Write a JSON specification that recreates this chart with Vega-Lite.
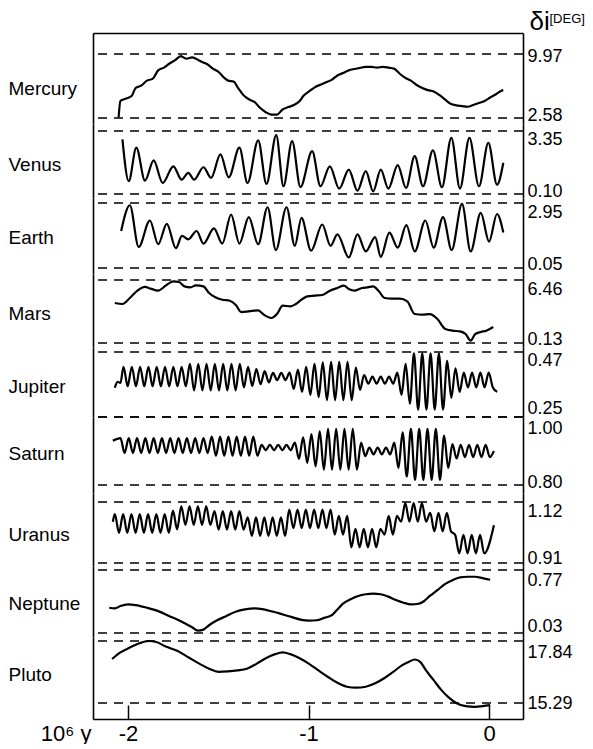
{
"$schema": "https://vega.github.io/schema/vega-lite/v6.json",
"background": "white",
"padding": {"left": 8, "top": 8, "right": 5, "bottom": 0},
"spacing": 0,
"bounds": "flush",
"datasets": {
"limits": [
{"p":"Mercury","v":9.97},{"p":"Mercury","v":2.58},
{"p":"Venus","v":3.35},{"p":"Venus","v":0.10},
{"p":"Earth","v":2.95},{"p":"Earth","v":0.05},
{"p":"Mars","v":6.46},{"p":"Mars","v":0.13},
{"p":"Jupiter","v":0.47},{"p":"Jupiter","v":0.25},
{"p":"Saturn","v":1.00},{"p":"Saturn","v":0.80},
{"p":"Uranus","v":1.12},{"p":"Uranus","v":0.91},
{"p":"Neptune","v":0.77},{"p":"Neptune","v":0.03},
{"p":"Pluto","v":17.84},{"p":"Pluto","v":15.29}
],
"curves": [
{"p":"Mercury","t":-2.052,"v":2.66},{"p":"Mercury","t":-2.042,"v":4.55},{"p":"Mercury","t":-2.010,"v":4.82},{"p":"Mercury","t":-1.979,"v":5.14},{"p":"Mercury","t":-1.958,"v":6.04},{"p":"Mercury","t":-1.927,"v":6.32},{"p":"Mercury","t":-1.895,"v":6.90},{"p":"Mercury","t":-1.864,"v":7.10},{"p":"Mercury","t":-1.833,"v":8.08},{"p":"Mercury","t":-1.801,"v":8.40},{"p":"Mercury","t":-1.770,"v":8.87},{"p":"Mercury","t":-1.739,"v":9.26},{"p":"Mercury","t":-1.707,"v":9.73},{"p":"Mercury","t":-1.693,"v":9.58},{"p":"Mercury","t":-1.676,"v":9.42},{"p":"Mercury","t":-1.645,"v":9.58},{"p":"Mercury","t":-1.624,"v":9.42},{"p":"Mercury","t":-1.592,"v":9.07},{"p":"Mercury","t":-1.561,"v":8.79},{"p":"Mercury","t":-1.530,"v":8.28},{"p":"Mercury","t":-1.498,"v":7.89},{"p":"Mercury","t":-1.467,"v":7.22},{"p":"Mercury","t":-1.446,"v":6.90},{"p":"Mercury","t":-1.415,"v":6.79},{"p":"Mercury","t":-1.390,"v":6.04},{"p":"Mercury","t":-1.362,"v":5.25},{"p":"Mercury","t":-1.331,"v":4.74},{"p":"Mercury","t":-1.300,"v":4.43},{"p":"Mercury","t":-1.269,"v":3.76},{"p":"Mercury","t":-1.237,"v":3.25},{"p":"Mercury","t":-1.206,"v":2.97},{"p":"Mercury","t":-1.175,"v":2.97},{"p":"Mercury","t":-1.144,"v":3.56},{"p":"Mercury","t":-1.112,"v":3.84},{"p":"Mercury","t":-1.081,"v":4.08},{"p":"Mercury","t":-1.049,"v":4.55},{"p":"Mercury","t":-1.028,"v":5.14},{"p":"Mercury","t":-0.997,"v":5.65},{"p":"Mercury","t":-0.966,"v":6.12},{"p":"Mercury","t":-0.934,"v":6.43},{"p":"Mercury","t":-0.903,"v":6.71},{"p":"Mercury","t":-0.872,"v":6.98},{"p":"Mercury","t":-0.840,"v":7.49},{"p":"Mercury","t":-0.809,"v":7.77},{"p":"Mercury","t":-0.778,"v":8.08},{"p":"Mercury","t":-0.746,"v":8.24},{"p":"Mercury","t":-0.715,"v":8.36},{"p":"Mercury","t":-0.684,"v":8.48},{"p":"Mercury","t":-0.652,"v":8.48},{"p":"Mercury","t":-0.621,"v":8.40},{"p":"Mercury","t":-0.589,"v":8.48},{"p":"Mercury","t":-0.558,"v":8.40},{"p":"Mercury","t":-0.527,"v":8.28},{"p":"Mercury","t":-0.495,"v":7.69},{"p":"Mercury","t":-0.464,"v":7.22},{"p":"Mercury","t":-0.433,"v":6.90},{"p":"Mercury","t":-0.401,"v":6.39},{"p":"Mercury","t":-0.370,"v":6.04},{"p":"Mercury","t":-0.339,"v":5.80},{"p":"Mercury","t":-0.307,"v":5.65},{"p":"Mercury","t":-0.276,"v":5.25},{"p":"Mercury","t":-0.245,"v":4.74},{"p":"Mercury","t":-0.213,"v":4.23},{"p":"Mercury","t":-0.182,"v":4.04},{"p":"Mercury","t":-0.150,"v":3.96},{"p":"Mercury","t":-0.119,"v":3.88},{"p":"Mercury","t":-0.088,"v":4.08},{"p":"Mercury","t":-0.056,"v":4.31},{"p":"Mercury","t":-0.025,"v":4.55},{"p":"Mercury","t":0.006,"v":4.94},{"p":"Mercury","t":0.038,"v":5.33},{"p":"Mercury","t":0.069,"v":5.73},{"p":"Mercury","t":0.079,"v":5.80},

{"p":"Venus","t":-2.031,"v":2.92},{"p":"Venus","t":-1.996,"v":0.76},{"p":"Venus","t":-1.954,"v":2.49},{"p":"Venus","t":-1.906,"v":0.79},{"p":"Venus","t":-1.858,"v":1.83},{"p":"Venus","t":-1.808,"v":0.67},{"p":"Venus","t":-1.749,"v":1.53},{"p":"Venus","t":-1.703,"v":0.84},{"p":"Venus","t":-1.666,"v":1.19},{"p":"Venus","t":-1.634,"v":0.84},{"p":"Venus","t":-1.582,"v":1.48},{"p":"Venus","t":-1.540,"v":0.93},{"p":"Venus","t":-1.488,"v":2.14},{"p":"Venus","t":-1.442,"v":0.96},{"p":"Venus","t":-1.383,"v":2.49},{"p":"Venus","t":-1.338,"v":0.67},{"p":"Venus","t":-1.279,"v":2.87},{"p":"Venus","t":-1.233,"v":0.62},{"p":"Venus","t":-1.179,"v":3.14},{"p":"Venus","t":-1.139,"v":0.50},{"p":"Venus","t":-1.091,"v":2.83},{"p":"Venus","t":-1.045,"v":0.46},{"p":"Venus","t":-0.980,"v":2.31},{"p":"Venus","t":-0.934,"v":0.50},{"p":"Venus","t":-0.882,"v":1.53},{"p":"Venus","t":-0.830,"v":0.38},{"p":"Venus","t":-0.777,"v":1.36},{"p":"Venus","t":-0.729,"v":0.27},{"p":"Venus","t":-0.683,"v":1.28},{"p":"Venus","t":-0.642,"v":0.24},{"p":"Venus","t":-0.600,"v":1.36},{"p":"Venus","t":-0.558,"v":0.38},{"p":"Venus","t":-0.506,"v":1.59},{"p":"Venus","t":-0.460,"v":0.41},{"p":"Venus","t":-0.412,"v":2.05},{"p":"Venus","t":-0.366,"v":0.50},{"p":"Venus","t":-0.311,"v":2.35},{"p":"Venus","t":-0.261,"v":0.45},{"p":"Venus","t":-0.209,"v":3.00},{"p":"Venus","t":-0.161,"v":0.38},{"p":"Venus","t":-0.109,"v":3.00},{"p":"Venus","t":-0.056,"v":0.50},{"p":"Venus","t":-0.004,"v":2.74},{"p":"Venus","t":0.044,"v":0.58},{"p":"Venus","t":0.079,"v":1.71},

{"p":"Earth","t":-2.038,"v":1.70},{"p":"Earth","t":-1.990,"v":2.85},{"p":"Earth","t":-1.941,"v":0.99},{"p":"Earth","t":-1.879,"v":2.17},{"p":"Earth","t":-1.833,"v":1.11},{"p":"Earth","t":-1.785,"v":2.02},{"p":"Earth","t":-1.735,"v":0.93},{"p":"Earth","t":-1.701,"v":1.48},{"p":"Earth","t":-1.666,"v":1.33},{"p":"Earth","t":-1.620,"v":1.70},{"p":"Earth","t":-1.582,"v":1.14},{"p":"Earth","t":-1.524,"v":1.82},{"p":"Earth","t":-1.478,"v":1.14},{"p":"Earth","t":-1.429,"v":2.43},{"p":"Earth","t":-1.383,"v":1.14},{"p":"Earth","t":-1.331,"v":2.32},{"p":"Earth","t":-1.279,"v":1.11},{"p":"Earth","t":-1.227,"v":2.76},{"p":"Earth","t":-1.181,"v":0.85},{"p":"Earth","t":-1.122,"v":2.76},{"p":"Earth","t":-1.076,"v":1.04},{"p":"Earth","t":-1.039,"v":2.29},{"p":"Earth","t":-0.986,"v":0.82},{"p":"Earth","t":-0.924,"v":1.99},{"p":"Earth","t":-0.878,"v":1.04},{"p":"Earth","t":-0.840,"v":1.55},{"p":"Earth","t":-0.777,"v":0.52},{"p":"Earth","t":-0.729,"v":1.55},{"p":"Earth","t":-0.683,"v":0.79},{"p":"Earth","t":-0.631,"v":1.43},{"p":"Earth","t":-0.600,"v":0.55},{"p":"Earth","t":-0.552,"v":1.63},{"p":"Earth","t":-0.506,"v":0.96},{"p":"Earth","t":-0.458,"v":1.96},{"p":"Earth","t":-0.412,"v":0.79},{"p":"Earth","t":-0.353,"v":2.17},{"p":"Earth","t":-0.307,"v":0.96},{"p":"Earth","t":-0.255,"v":2.32},{"p":"Earth","t":-0.207,"v":0.85},{"p":"Earth","t":-0.150,"v":2.91},{"p":"Earth","t":-0.102,"v":0.79},{"p":"Earth","t":-0.046,"v":2.51},{"p":"Earth","t":0.000,"v":1.23},{"p":"Earth","t":0.044,"v":2.46},{"p":"Earth","t":0.079,"v":1.63},

{"p":"Mars","t":-2.073,"v":4.15},{"p":"Mars","t":-2.031,"v":4.05},{"p":"Mars","t":-1.990,"v":4.65},{"p":"Mars","t":-1.948,"v":5.39},{"p":"Mars","t":-1.906,"v":5.76},{"p":"Mars","t":-1.875,"v":5.59},{"p":"Mars","t":-1.833,"v":5.39},{"p":"Mars","t":-1.791,"v":5.89},{"p":"Mars","t":-1.749,"v":6.33},{"p":"Mars","t":-1.718,"v":6.26},{"p":"Mars","t":-1.687,"v":5.82},{"p":"Mars","t":-1.655,"v":5.72},{"p":"Mars","t":-1.624,"v":5.92},{"p":"Mars","t":-1.582,"v":5.82},{"p":"Mars","t":-1.551,"v":5.15},{"p":"Mars","t":-1.519,"v":4.75},{"p":"Mars","t":-1.478,"v":4.48},{"p":"Mars","t":-1.436,"v":4.38},{"p":"Mars","t":-1.404,"v":3.98},{"p":"Mars","t":-1.373,"v":3.24},{"p":"Mars","t":-1.331,"v":3.31},{"p":"Mars","t":-1.279,"v":3.41},{"p":"Mars","t":-1.248,"v":2.98},{"p":"Mars","t":-1.206,"v":2.64},{"p":"Mars","t":-1.175,"v":3.04},{"p":"Mars","t":-1.143,"v":3.88},{"p":"Mars","t":-1.101,"v":3.81},{"p":"Mars","t":-1.070,"v":4.05},{"p":"Mars","t":-1.039,"v":4.48},{"p":"Mars","t":-1.007,"v":4.82},{"p":"Mars","t":-0.966,"v":4.89},{"p":"Mars","t":-0.924,"v":4.95},{"p":"Mars","t":-0.882,"v":5.39},{"p":"Mars","t":-0.840,"v":5.66},{"p":"Mars","t":-0.805,"v":5.89},{"p":"Mars","t":-0.777,"v":5.56},{"p":"Mars","t":-0.746,"v":5.39},{"p":"Mars","t":-0.704,"v":5.66},{"p":"Mars","t":-0.673,"v":5.72},{"p":"Mars","t":-0.642,"v":5.82},{"p":"Mars","t":-0.610,"v":5.32},{"p":"Mars","t":-0.579,"v":4.65},{"p":"Mars","t":-0.537,"v":4.58},{"p":"Mars","t":-0.495,"v":4.58},{"p":"Mars","t":-0.453,"v":4.32},{"p":"Mars","t":-0.412,"v":3.04},{"p":"Mars","t":-0.370,"v":2.98},{"p":"Mars","t":-0.328,"v":3.04},{"p":"Mars","t":-0.286,"v":2.54},{"p":"Mars","t":-0.245,"v":1.57},{"p":"Mars","t":-0.203,"v":1.37},{"p":"Mars","t":-0.161,"v":1.30},{"p":"Mars","t":-0.130,"v":1.03},{"p":"Mars","t":-0.102,"v":0.36},{"p":"Mars","t":-0.077,"v":1.03},{"p":"Mars","t":-0.046,"v":1.24},{"p":"Mars","t":-0.015,"v":1.37},{"p":"Mars","t":0.023,"v":1.74},

{"p":"Jupiter","t":-2.073,"v":0.349},{"p":"Jupiter","t":-2.058,"v":0.369},{"p":"Jupiter","t":-2.042,"v":0.365},
{"p":"Jupiter","t":-2.025,"v":0.420},{"p":"Jupiter","t":-2.002,"v":0.354},{"p":"Jupiter","t":-1.979,"v":0.420},{"p":"Jupiter","t":-1.956,"v":0.354},{"p":"Jupiter","t":-1.933,"v":0.420},{"p":"Jupiter","t":-1.910,"v":0.354},{"p":"Jupiter","t":-1.887,"v":0.420},{"p":"Jupiter","t":-1.864,"v":0.354},{"p":"Jupiter","t":-1.841,"v":0.420},{"p":"Jupiter","t":-1.818,"v":0.354},{"p":"Jupiter","t":-1.795,"v":0.420},{"p":"Jupiter","t":-1.772,"v":0.354},{"p":"Jupiter","t":-1.749,"v":0.420},{"p":"Jupiter","t":-1.726,"v":0.354},{"p":"Jupiter","t":-1.703,"v":0.420},{"p":"Jupiter","t":-1.680,"v":0.354},
{"p":"Jupiter","t":-1.657,"v":0.430},{"p":"Jupiter","t":-1.634,"v":0.340},{"p":"Jupiter","t":-1.611,"v":0.430},{"p":"Jupiter","t":-1.588,"v":0.340},{"p":"Jupiter","t":-1.565,"v":0.430},{"p":"Jupiter","t":-1.542,"v":0.340},{"p":"Jupiter","t":-1.519,"v":0.430},{"p":"Jupiter","t":-1.496,"v":0.340},{"p":"Jupiter","t":-1.473,"v":0.430},{"p":"Jupiter","t":-1.450,"v":0.340},{"p":"Jupiter","t":-1.427,"v":0.430},{"p":"Jupiter","t":-1.404,"v":0.340},{"p":"Jupiter","t":-1.381,"v":0.430},
{"p":"Jupiter","t":-1.358,"v":0.350},{"p":"Jupiter","t":-1.335,"v":0.420},{"p":"Jupiter","t":-1.312,"v":0.355},{"p":"Jupiter","t":-1.289,"v":0.412},{"p":"Jupiter","t":-1.266,"v":0.361},{"p":"Jupiter","t":-1.243,"v":0.405},{"p":"Jupiter","t":-1.220,"v":0.367},
{"p":"Jupiter","t":-1.197,"v":0.399},{"p":"Jupiter","t":-1.174,"v":0.375},{"p":"Jupiter","t":-1.151,"v":0.399},{"p":"Jupiter","t":-1.128,"v":0.375},
{"p":"Jupiter","t":-1.105,"v":0.400},{"p":"Jupiter","t":-1.082,"v":0.345},{"p":"Jupiter","t":-1.059,"v":0.410},{"p":"Jupiter","t":-1.036,"v":0.335},{"p":"Jupiter","t":-1.013,"v":0.420},{"p":"Jupiter","t":-0.990,"v":0.325},{"p":"Jupiter","t":-0.967,"v":0.430},{"p":"Jupiter","t":-0.944,"v":0.317},{"p":"Jupiter","t":-0.921,"v":0.435},
{"p":"Jupiter","t":-0.898,"v":0.307},{"p":"Jupiter","t":-0.875,"v":0.437},{"p":"Jupiter","t":-0.853,"v":0.307},{"p":"Jupiter","t":-0.830,"v":0.437},{"p":"Jupiter","t":-0.807,"v":0.307},{"p":"Jupiter","t":-0.784,"v":0.437},{"p":"Jupiter","t":-0.761,"v":0.307},
{"p":"Jupiter","t":-0.738,"v":0.417},{"p":"Jupiter","t":-0.715,"v":0.342},{"p":"Jupiter","t":-0.692,"v":0.392},
{"p":"Jupiter","t":-0.669,"v":0.363},{"p":"Jupiter","t":-0.646,"v":0.387},{"p":"Jupiter","t":-0.623,"v":0.363},{"p":"Jupiter","t":-0.600,"v":0.387},{"p":"Jupiter","t":-0.577,"v":0.363},{"p":"Jupiter","t":-0.554,"v":0.387},{"p":"Jupiter","t":-0.531,"v":0.363},
{"p":"Jupiter","t":-0.508,"v":0.400},{"p":"Jupiter","t":-0.485,"v":0.325},{"p":"Jupiter","t":-0.462,"v":0.430},{"p":"Jupiter","t":-0.439,"v":0.295},
{"p":"Jupiter","t":-0.416,"v":0.465},{"p":"Jupiter","t":-0.393,"v":0.275},{"p":"Jupiter","t":-0.370,"v":0.465},{"p":"Jupiter","t":-0.347,"v":0.275},{"p":"Jupiter","t":-0.324,"v":0.465},{"p":"Jupiter","t":-0.301,"v":0.275},{"p":"Jupiter","t":-0.278,"v":0.465},{"p":"Jupiter","t":-0.255,"v":0.275},
{"p":"Jupiter","t":-0.232,"v":0.440},{"p":"Jupiter","t":-0.209,"v":0.315},{"p":"Jupiter","t":-0.186,"v":0.415},{"p":"Jupiter","t":-0.163,"v":0.335},
{"p":"Jupiter","t":-0.140,"v":0.400},{"p":"Jupiter","t":-0.117,"v":0.350},{"p":"Jupiter","t":-0.094,"v":0.400},{"p":"Jupiter","t":-0.071,"v":0.350},{"p":"Jupiter","t":-0.048,"v":0.400},{"p":"Jupiter","t":-0.025,"v":0.350},{"p":"Jupiter","t":-0.002,"v":0.400},{"p":"Jupiter","t":0.021,"v":0.350},{"p":"Jupiter","t":0.045,"v":0.335},

{"p":"Saturn","t":-2.084,"v":0.930},
{"p":"Saturn","t":-2.042,"v":0.938},{"p":"Saturn","t":-2.019,"v":0.894},{"p":"Saturn","t":-1.996,"v":0.938},{"p":"Saturn","t":-1.973,"v":0.894},{"p":"Saturn","t":-1.950,"v":0.938},{"p":"Saturn","t":-1.927,"v":0.894},{"p":"Saturn","t":-1.904,"v":0.938},{"p":"Saturn","t":-1.881,"v":0.894},{"p":"Saturn","t":-1.858,"v":0.938},{"p":"Saturn","t":-1.835,"v":0.894},{"p":"Saturn","t":-1.812,"v":0.938},{"p":"Saturn","t":-1.789,"v":0.894},{"p":"Saturn","t":-1.766,"v":0.938},{"p":"Saturn","t":-1.743,"v":0.894},{"p":"Saturn","t":-1.720,"v":0.938},{"p":"Saturn","t":-1.697,"v":0.894},{"p":"Saturn","t":-1.674,"v":0.938},{"p":"Saturn","t":-1.651,"v":0.894},{"p":"Saturn","t":-1.628,"v":0.938},{"p":"Saturn","t":-1.605,"v":0.894},{"p":"Saturn","t":-1.582,"v":0.938},{"p":"Saturn","t":-1.559,"v":0.894},
{"p":"Saturn","t":-1.536,"v":0.942},{"p":"Saturn","t":-1.513,"v":0.886},{"p":"Saturn","t":-1.490,"v":0.942},{"p":"Saturn","t":-1.467,"v":0.886},{"p":"Saturn","t":-1.444,"v":0.942},{"p":"Saturn","t":-1.421,"v":0.886},{"p":"Saturn","t":-1.398,"v":0.942},{"p":"Saturn","t":-1.375,"v":0.886},{"p":"Saturn","t":-1.352,"v":0.942},{"p":"Saturn","t":-1.329,"v":0.886},{"p":"Saturn","t":-1.306,"v":0.942},{"p":"Saturn","t":-1.283,"v":0.886},
{"p":"Saturn","t":-1.260,"v":0.918},{"p":"Saturn","t":-1.237,"v":0.902},{"p":"Saturn","t":-1.214,"v":0.918},{"p":"Saturn","t":-1.191,"v":0.902},{"p":"Saturn","t":-1.168,"v":0.918},{"p":"Saturn","t":-1.145,"v":0.902},{"p":"Saturn","t":-1.122,"v":0.918},{"p":"Saturn","t":-1.099,"v":0.902},
{"p":"Saturn","t":-1.076,"v":0.925},{"p":"Saturn","t":-1.053,"v":0.877},{"p":"Saturn","t":-1.030,"v":0.940},{"p":"Saturn","t":-1.007,"v":0.865},{"p":"Saturn","t":-0.984,"v":0.950},{"p":"Saturn","t":-0.961,"v":0.855},{"p":"Saturn","t":-0.938,"v":0.958},
{"p":"Saturn","t":-0.915,"v":0.845},{"p":"Saturn","t":-0.892,"v":0.965},{"p":"Saturn","t":-0.870,"v":0.845},{"p":"Saturn","t":-0.847,"v":0.965},{"p":"Saturn","t":-0.824,"v":0.845},{"p":"Saturn","t":-0.801,"v":0.965},{"p":"Saturn","t":-0.778,"v":0.845},{"p":"Saturn","t":-0.755,"v":0.965},{"p":"Saturn","t":-0.732,"v":0.845},
{"p":"Saturn","t":-0.709,"v":0.925},{"p":"Saturn","t":-0.686,"v":0.885},
{"p":"Saturn","t":-0.663,"v":0.910},{"p":"Saturn","t":-0.640,"v":0.890},{"p":"Saturn","t":-0.617,"v":0.910},{"p":"Saturn","t":-0.594,"v":0.890},{"p":"Saturn","t":-0.571,"v":0.910},{"p":"Saturn","t":-0.548,"v":0.890},
{"p":"Saturn","t":-0.525,"v":0.925},{"p":"Saturn","t":-0.502,"v":0.850},{"p":"Saturn","t":-0.479,"v":0.955},{"p":"Saturn","t":-0.456,"v":0.825},
{"p":"Saturn","t":-0.433,"v":0.965},{"p":"Saturn","t":-0.410,"v":0.815},{"p":"Saturn","t":-0.387,"v":0.965},{"p":"Saturn","t":-0.364,"v":0.815},{"p":"Saturn","t":-0.341,"v":0.965},{"p":"Saturn","t":-0.318,"v":0.815},{"p":"Saturn","t":-0.295,"v":0.965},{"p":"Saturn","t":-0.272,"v":0.815},
{"p":"Saturn","t":-0.249,"v":0.945},{"p":"Saturn","t":-0.226,"v":0.850},{"p":"Saturn","t":-0.203,"v":0.920},{"p":"Saturn","t":-0.180,"v":0.878},
{"p":"Saturn","t":-0.157,"v":0.918},{"p":"Saturn","t":-0.134,"v":0.882},{"p":"Saturn","t":-0.111,"v":0.918},{"p":"Saturn","t":-0.088,"v":0.882},{"p":"Saturn","t":-0.065,"v":0.918},{"p":"Saturn","t":-0.042,"v":0.882},{"p":"Saturn","t":-0.019,"v":0.918},{"p":"Saturn","t":0.004,"v":0.882},{"p":"Saturn","t":0.027,"v":0.900},

{"p":"Uranus","t":-2.084,"v":1.052},
{"p":"Uranus","t":-2.073,"v":1.078},{"p":"Uranus","t":-2.050,"v":1.014},{"p":"Uranus","t":-2.027,"v":1.078},{"p":"Uranus","t":-2.004,"v":1.014},{"p":"Uranus","t":-1.981,"v":1.078},{"p":"Uranus","t":-1.958,"v":1.014},{"p":"Uranus","t":-1.935,"v":1.078},{"p":"Uranus","t":-1.912,"v":1.014},{"p":"Uranus","t":-1.889,"v":1.078},{"p":"Uranus","t":-1.866,"v":1.014},{"p":"Uranus","t":-1.843,"v":1.078},{"p":"Uranus","t":-1.820,"v":1.014},{"p":"Uranus","t":-1.797,"v":1.078},{"p":"Uranus","t":-1.774,"v":1.014},{"p":"Uranus","t":-1.751,"v":1.090},{"p":"Uranus","t":-1.728,"v":1.026},
{"p":"Uranus","t":-1.705,"v":1.105},{"p":"Uranus","t":-1.682,"v":1.041},{"p":"Uranus","t":-1.659,"v":1.105},{"p":"Uranus","t":-1.636,"v":1.041},{"p":"Uranus","t":-1.613,"v":1.105},{"p":"Uranus","t":-1.590,"v":1.041},{"p":"Uranus","t":-1.567,"v":1.105},{"p":"Uranus","t":-1.544,"v":1.041},
{"p":"Uranus","t":-1.521,"v":1.089},{"p":"Uranus","t":-1.498,"v":1.025},{"p":"Uranus","t":-1.475,"v":1.089},{"p":"Uranus","t":-1.452,"v":1.025},{"p":"Uranus","t":-1.429,"v":1.089},{"p":"Uranus","t":-1.406,"v":1.025},{"p":"Uranus","t":-1.383,"v":1.089},{"p":"Uranus","t":-1.360,"v":1.025},
{"p":"Uranus","t":-1.337,"v":1.067},{"p":"Uranus","t":-1.314,"v":1.003},{"p":"Uranus","t":-1.291,"v":1.067},{"p":"Uranus","t":-1.268,"v":1.003},{"p":"Uranus","t":-1.245,"v":1.067},{"p":"Uranus","t":-1.222,"v":1.003},{"p":"Uranus","t":-1.199,"v":1.067},{"p":"Uranus","t":-1.176,"v":1.003},{"p":"Uranus","t":-1.153,"v":1.067},{"p":"Uranus","t":-1.130,"v":1.003},
{"p":"Uranus","t":-1.107,"v":1.094},{"p":"Uranus","t":-1.084,"v":1.030},{"p":"Uranus","t":-1.061,"v":1.094},{"p":"Uranus","t":-1.038,"v":1.030},{"p":"Uranus","t":-1.015,"v":1.094},{"p":"Uranus","t":-0.992,"v":1.030},{"p":"Uranus","t":-0.969,"v":1.094},{"p":"Uranus","t":-0.946,"v":1.030},{"p":"Uranus","t":-0.923,"v":1.094},{"p":"Uranus","t":-0.901,"v":1.030},{"p":"Uranus","t":-0.878,"v":1.094},
{"p":"Uranus","t":-0.855,"v":1.008},{"p":"Uranus","t":-0.832,"v":1.072},{"p":"Uranus","t":-0.809,"v":1.008},{"p":"Uranus","t":-0.786,"v":1.072},
{"p":"Uranus","t":-0.763,"v":0.964},{"p":"Uranus","t":-0.740,"v":1.028},{"p":"Uranus","t":-0.717,"v":0.964},{"p":"Uranus","t":-0.694,"v":1.028},{"p":"Uranus","t":-0.671,"v":0.964},{"p":"Uranus","t":-0.648,"v":1.028},{"p":"Uranus","t":-0.625,"v":0.964},{"p":"Uranus","t":-0.602,"v":1.028},
{"p":"Uranus","t":-0.579,"v":1.008},{"p":"Uranus","t":-0.556,"v":1.072},{"p":"Uranus","t":-0.533,"v":1.008},{"p":"Uranus","t":-0.510,"v":1.072},
{"p":"Uranus","t":-0.487,"v":1.052},{"p":"Uranus","t":-0.464,"v":1.116},{"p":"Uranus","t":-0.441,"v":1.052},{"p":"Uranus","t":-0.418,"v":1.116},{"p":"Uranus","t":-0.395,"v":1.052},{"p":"Uranus","t":-0.372,"v":1.116},{"p":"Uranus","t":-0.349,"v":1.052},
{"p":"Uranus","t":-0.326,"v":1.083},{"p":"Uranus","t":-0.303,"v":1.019},{"p":"Uranus","t":-0.280,"v":1.083},{"p":"Uranus","t":-0.257,"v":1.019},{"p":"Uranus","t":-0.234,"v":1.083},{"p":"Uranus","t":-0.211,"v":1.019},
{"p":"Uranus","t":-0.188,"v":1.007},{"p":"Uranus","t":-0.165,"v":0.943},{"p":"Uranus","t":-0.142,"v":1.007},{"p":"Uranus","t":-0.119,"v":0.943},{"p":"Uranus","t":-0.096,"v":1.007},{"p":"Uranus","t":-0.073,"v":0.943},{"p":"Uranus","t":-0.050,"v":1.007},{"p":"Uranus","t":-0.027,"v":0.943},{"p":"Uranus","t":0.027,"v":1.040},

{"p":"Neptune","t":-2.104,"v":0.327},{"p":"Neptune","t":-2.073,"v":0.319},{"p":"Neptune","t":-2.042,"v":0.347},{"p":"Neptune","t":-2.000,"v":0.366},{"p":"Neptune","t":-1.958,"v":0.358},{"p":"Neptune","t":-1.896,"v":0.327},{"p":"Neptune","t":-1.833,"v":0.287},{"p":"Neptune","t":-1.770,"v":0.228},{"p":"Neptune","t":-1.707,"v":0.169},{"p":"Neptune","t":-1.645,"v":0.097},{"p":"Neptune","t":-1.613,"v":0.058},{"p":"Neptune","t":-1.582,"v":0.070},{"p":"Neptune","t":-1.551,"v":0.121},{"p":"Neptune","t":-1.509,"v":0.176},{"p":"Neptune","t":-1.457,"v":0.228},{"p":"Neptune","t":-1.404,"v":0.279},{"p":"Neptune","t":-1.352,"v":0.307},{"p":"Neptune","t":-1.300,"v":0.319},{"p":"Neptune","t":-1.248,"v":0.307},{"p":"Neptune","t":-1.195,"v":0.279},{"p":"Neptune","t":-1.143,"v":0.248},{"p":"Neptune","t":-1.091,"v":0.216},{"p":"Neptune","t":-1.039,"v":0.184},{"p":"Neptune","t":-0.997,"v":0.176},{"p":"Neptune","t":-0.955,"v":0.180},{"p":"Neptune","t":-0.913,"v":0.208},{"p":"Neptune","t":-0.871,"v":0.240},{"p":"Neptune","t":-0.840,"v":0.307},{"p":"Neptune","t":-0.809,"v":0.374},{"p":"Neptune","t":-0.767,"v":0.426},{"p":"Neptune","t":-0.725,"v":0.465},{"p":"Neptune","t":-0.683,"v":0.485},{"p":"Neptune","t":-0.642,"v":0.493},{"p":"Neptune","t":-0.600,"v":0.485},{"p":"Neptune","t":-0.558,"v":0.457},{"p":"Neptune","t":-0.516,"v":0.418},{"p":"Neptune","t":-0.474,"v":0.386},{"p":"Neptune","t":-0.433,"v":0.366},{"p":"Neptune","t":-0.391,"v":0.374},{"p":"Neptune","t":-0.359,"v":0.406},{"p":"Neptune","t":-0.328,"v":0.465},{"p":"Neptune","t":-0.286,"v":0.533},{"p":"Neptune","t":-0.245,"v":0.604},{"p":"Neptune","t":-0.203,"v":0.651},{"p":"Neptune","t":-0.161,"v":0.683},{"p":"Neptune","t":-0.119,"v":0.691},{"p":"Neptune","t":-0.077,"v":0.691},{"p":"Neptune","t":-0.036,"v":0.675},{"p":"Neptune","t":0.006,"v":0.655},

{"p":"Pluto","t":-2.088,"v":17.10},{"p":"Pluto","t":-2.042,"v":17.37},{"p":"Pluto","t":-1.990,"v":17.57},{"p":"Pluto","t":-1.937,"v":17.75},{"p":"Pluto","t":-1.885,"v":17.84},{"p":"Pluto","t":-1.843,"v":17.80},{"p":"Pluto","t":-1.791,"v":17.61},{"p":"Pluto","t":-1.728,"v":17.44},{"p":"Pluto","t":-1.666,"v":17.17},{"p":"Pluto","t":-1.603,"v":16.90},{"p":"Pluto","t":-1.551,"v":16.70},{"p":"Pluto","t":-1.498,"v":16.57},{"p":"Pluto","t":-1.446,"v":16.59},{"p":"Pluto","t":-1.394,"v":16.63},{"p":"Pluto","t":-1.342,"v":16.70},{"p":"Pluto","t":-1.289,"v":16.90},{"p":"Pluto","t":-1.237,"v":17.13},{"p":"Pluto","t":-1.185,"v":17.30},{"p":"Pluto","t":-1.143,"v":17.37},{"p":"Pluto","t":-1.101,"v":17.30},{"p":"Pluto","t":-1.049,"v":17.13},{"p":"Pluto","t":-0.997,"v":16.90},{"p":"Pluto","t":-0.945,"v":16.63},{"p":"Pluto","t":-0.892,"v":16.36},{"p":"Pluto","t":-0.840,"v":16.12},{"p":"Pluto","t":-0.788,"v":15.96},{"p":"Pluto","t":-0.736,"v":15.92},{"p":"Pluto","t":-0.683,"v":15.96},{"p":"Pluto","t":-0.631,"v":16.10},{"p":"Pluto","t":-0.579,"v":16.32},{"p":"Pluto","t":-0.527,"v":16.59},{"p":"Pluto","t":-0.485,"v":16.83},{"p":"Pluto","t":-0.443,"v":16.99},{"p":"Pluto","t":-0.412,"v":17.08},{"p":"Pluto","t":-0.380,"v":16.97},{"p":"Pluto","t":-0.349,"v":16.63},{"p":"Pluto","t":-0.307,"v":16.23},{"p":"Pluto","t":-0.265,"v":15.83},{"p":"Pluto","t":-0.224,"v":15.52},{"p":"Pluto","t":-0.182,"v":15.29},{"p":"Pluto","t":-0.130,"v":15.16},{"p":"Pluto","t":-0.077,"v":15.13},{"p":"Pluto","t":-0.036,"v":15.16},{"p":"Pluto","t":0.006,"v":15.20}
]
},
"vconcat": [
{"height": 91, "width": 430,
 "layer": [
  {"data": {"name": "limits"}, "transform": [{"filter": "datum.p == 'Mercury'"}],
   "mark": {"type": "rule", "strokeDash": [9, 7], "strokeWidth": 1.3, "color": "black"},
   "encoding": {"y": {"field": "v", "type": "quantitative", "scale": {"domain": [1.887, 12.395], "nice": false, "zero": false},
     "axis": {"orient": "left", "title": "Mercury", "titleY": 55}}}},
  {"data": {"name": "curves"}, "transform": [{"filter": "datum.p == 'Mercury'"}],
   "mark": {"type": "line", "interpolate": "monotone", "strokeWidth": 2.2, "color": "black"},
   "encoding": {
     "x": {"field": "t", "type": "quantitative", "scale": {"domain": [-2.194, 0.188], "nice": false, "zero": false},
       "axis": {"orient": "top", "ticks": false, "labels": false, "title": "δi", "titleAngle": 0, "titleAlign": "left", "titleBaseline": "alphabetic", "titleX": 436, "titleY": -4, "titleFontSize": 26}},
     "y": {"field": "v", "type": "quantitative", "scale": {"domain": [1.887, 12.395], "nice": false, "zero": false},
       "axis": {"orient": "right", "values": [2.58, 9.97], "format": ".2f", "title": "[DEG]", "titleFontSize": 13, "titleAngle": 0, "titleAlign": "left", "titleBaseline": "alphabetic", "titleX": 26, "titleY": -11,
         "labelBaseline": {"condition": {"test": "datum.value > 6", "value": "middle"}, "value": "alphabetic"},
         "labelOffset": {"condition": {"test": "datum.value > 6", "value": 2}, "value": 3}}}}}
 ],
 "resolve": {"axis": {"y": "independent"}}},
{"height": 74, "width": 430,
 "layer": [
  {"data": {"name": "limits"}, "transform": [{"filter": "datum.p == 'Venus'"}],
   "mark": {"type": "rule", "strokeDash": [9, 7], "strokeWidth": 1.3, "color": "black"},
   "encoding": {"y": {"field": "v", "type": "quantitative", "scale": {"domain": [-0.106, 3.711], "nice": false, "zero": false},
     "axis": {"orient": "left", "title": "Venus", "titleY": 40.5}}}},
  {"data": {"name": "curves"}, "transform": [{"filter": "datum.p == 'Venus'"}],
   "mark": {"type": "line", "interpolate": "monotone", "strokeWidth": 2.2, "color": "black"},
   "encoding": {
     "x": {"field": "t", "type": "quantitative", "scale": {"domain": [-2.194, 0.188], "nice": false, "zero": false}, "axis": null},
     "y": {"field": "v", "type": "quantitative", "scale": {"domain": [-0.106, 3.711], "nice": false, "zero": false},
       "axis": {"orient": "right", "values": [0.10, 3.35], "format": ".2f", "title": null,
         "labelBaseline": {"condition": {"test": "datum.value > 1.7", "value": "top"}, "value": "alphabetic"},
         "labelOffset": {"condition": {"test": "datum.value > 1.7", "value": 0}, "value": 2}}}}}
 ],
 "resolve": {"axis": {"y": "independent"}}},
{"height": 76, "width": 430,
 "layer": [
  {"data": {"name": "limits"}, "transform": [{"filter": "datum.p == 'Earth'"}],
   "mark": {"type": "rule", "strokeDash": [9, 7], "strokeWidth": 1.3, "color": "black"},
   "encoding": {"y": {"field": "v", "type": "quantitative", "scale": {"domain": [-0.218, 3.173], "nice": false, "zero": false},
     "axis": {"orient": "left", "title": "Earth", "titleY": 39.5}}}},
  {"data": {"name": "curves"}, "transform": [{"filter": "datum.p == 'Earth'"}],
   "mark": {"type": "line", "interpolate": "monotone", "strokeWidth": 2.2, "color": "black"},
   "encoding": {
     "x": {"field": "t", "type": "quantitative", "scale": {"domain": [-2.194, 0.188], "nice": false, "zero": false}, "axis": null},
     "y": {"field": "v", "type": "quantitative", "scale": {"domain": [-0.218, 3.173], "nice": false, "zero": false},
       "axis": {"orient": "right", "values": [0.05, 2.95], "format": ".2f", "title": null,
         "labelBaseline": {"condition": {"test": "datum.value > 1.5", "value": "top"}, "value": "alphabetic"},
         "labelOffset": {"condition": {"test": "datum.value > 1.5", "value": 1}, "value": 2}}}}}
 ],
 "resolve": {"axis": {"y": "independent"}}},
{"height": 73, "width": 430,
 "layer": [
  {"data": {"name": "limits"}, "transform": [{"filter": "datum.p == 'Mars'"}],
   "mark": {"type": "rule", "strokeDash": [9, 7], "strokeWidth": 1.3, "color": "black"},
   "encoding": {"y": {"field": "v", "type": "quantitative", "scale": {"domain": [-0.272, 7.063], "nice": false, "zero": false},
     "axis": {"orient": "left", "title": "Mars", "titleY": 39.5}}}},
  {"data": {"name": "curves"}, "transform": [{"filter": "datum.p == 'Mars'"}],
   "mark": {"type": "line", "interpolate": "monotone", "strokeWidth": 2.2, "color": "black"},
   "encoding": {
     "x": {"field": "t", "type": "quantitative", "scale": {"domain": [-2.194, 0.188], "nice": false, "zero": false}, "axis": null},
     "y": {"field": "v", "type": "quantitative", "scale": {"domain": [-0.272, 7.063], "nice": false, "zero": false},
       "axis": {"orient": "right", "values": [0.13, 6.46], "format": ".2f", "title": null,
         "labelBaseline": {"condition": {"test": "datum.value > 3", "value": "top"}, "value": "alphabetic"},
         "labelOffset": {"condition": {"test": "datum.value > 3", "value": 0}, "value": 2}}}}}
 ],
 "resolve": {"axis": {"y": "independent"}}},
{"height": 70, "width": 430,
 "layer": [
  {"data": {"name": "limits"}, "transform": [{"filter": "datum.p == 'Jupiter'"}],
   "mark": {"type": "rule", "strokeDash": [9, 7], "strokeWidth": 1.3, "color": "black"},
   "encoding": {"y": {"field": "v", "type": "quantitative", "scale": {"domain": [0.25, 0.4869], "nice": false, "zero": false},
     "axis": {"orient": "left", "title": "Jupiter", "titleY": 39.5}}}},
  {"data": {"name": "curves"}, "transform": [{"filter": "datum.p == 'Jupiter'"}],
   "mark": {"type": "line", "interpolate": "monotone", "strokeWidth": 2.2, "color": "black"},
   "encoding": {
     "x": {"field": "t", "type": "quantitative", "scale": {"domain": [-2.194, 0.188], "nice": false, "zero": false}, "axis": null},
     "y": {"field": "v", "type": "quantitative", "scale": {"domain": [0.25, 0.4869], "nice": false, "zero": false},
       "axis": {"orient": "right", "values": [0.25, 0.47], "format": ".2f", "title": null,
         "labelBaseline": {"condition": {"test": "datum.value > 0.36", "value": "top"}, "value": "alphabetic"},
         "labelOffset": {"condition": {"test": "datum.value > 0.36", "value": 0}, "value": -4}}}}}
 ],
 "resolve": {"axis": {"y": "independent"}}},
{"height": 76, "width": 430,
 "layer": [
  {"data": {"name": "limits"}, "transform": [{"filter": "datum.p == 'Saturn'"}],
   "mark": {"type": "rule", "strokeDash": [9, 7], "strokeWidth": 1.3, "color": "black"},
   "encoding": {"y": {"field": "v", "type": "quantitative", "scale": {"domain": [0.7765, 1.0], "nice": false, "zero": false},
     "axis": {"orient": "left", "title": "Saturn", "titleY": 36}}}},
  {"data": {"name": "curves"}, "transform": [{"filter": "datum.p == 'Saturn'"}],
   "mark": {"type": "line", "interpolate": "monotone", "strokeWidth": 2.2, "color": "black"},
   "encoding": {
     "x": {"field": "t", "type": "quantitative", "scale": {"domain": [-2.194, 0.188], "nice": false, "zero": false}, "axis": null},
     "y": {"field": "v", "type": "quantitative", "scale": {"domain": [0.7765, 1.0], "nice": false, "zero": false},
       "axis": {"orient": "right", "values": [0.80, 1.00], "format": ".2f", "title": null,
         "labelBaseline": {"condition": {"test": "datum.value > 0.9", "value": "top"}, "value": "alphabetic"},
         "labelOffset": {"condition": {"test": "datum.value > 0.9", "value": 2}, "value": 2}}}}}
 ],
 "resolve": {"axis": {"y": "independent"}}},
{"height": 73, "width": 430,
 "layer": [
  {"data": {"name": "limits"}, "transform": [{"filter": "datum.p == 'Uranus'"}],
   "mark": {"type": "rule", "strokeDash": [9, 7], "strokeWidth": 1.3, "color": "black"},
   "encoding": {"y": {"field": "v", "type": "quantitative", "scale": {"domain": [0.8997, 1.151], "nice": false, "zero": false},
     "axis": {"orient": "left", "title": "Uranus", "titleY": 41.5}}}},
  {"data": {"name": "curves"}, "transform": [{"filter": "datum.p == 'Uranus'"}],
   "mark": {"type": "line", "interpolate": "monotone", "strokeWidth": 2.2, "color": "black"},
   "encoding": {
     "x": {"field": "t", "type": "quantitative", "scale": {"domain": [-2.194, 0.188], "nice": false, "zero": false}, "axis": null},
     "y": {"field": "v", "type": "quantitative", "scale": {"domain": [0.8997, 1.151], "nice": false, "zero": false},
       "axis": {"orient": "right", "values": [0.91, 1.12], "format": ".2f", "title": null,
         "labelBaseline": {"condition": {"test": "datum.value > 1.0", "value": "top"}, "value": "alphabetic"},
         "labelOffset": {"condition": {"test": "datum.value > 1.0", "value": 0}, "value": 0}}}}}
 ],
 "resolve": {"axis": {"y": "independent"}}},
{"height": 71, "width": 430,
 "layer": [
  {"data": {"name": "limits"}, "transform": [{"filter": "datum.p == 'Neptune'"}],
   "mark": {"type": "rule", "strokeDash": [9, 7], "strokeWidth": 1.3, "color": "black"},
   "encoding": {"y": {"field": "v", "type": "quantitative", "scale": {"domain": [-0.017, 0.817], "nice": false, "zero": false},
     "axis": {"orient": "left", "title": "Neptune", "titleY": 37.5}}}},
  {"data": {"name": "curves"}, "transform": [{"filter": "datum.p == 'Neptune'"}],
   "mark": {"type": "line", "interpolate": "monotone", "strokeWidth": 2.2, "color": "black"},
   "encoding": {
     "x": {"field": "t", "type": "quantitative", "scale": {"domain": [-2.194, 0.188], "nice": false, "zero": false}, "axis": null},
     "y": {"field": "v", "type": "quantitative", "scale": {"domain": [-0.017, 0.817], "nice": false, "zero": false},
       "axis": {"orient": "right", "values": [0.03, 0.77], "format": ".2f", "title": null,
         "labelBaseline": {"condition": {"test": "datum.value > 0.4", "value": "top"}, "value": "alphabetic"},
         "labelOffset": {"condition": {"test": "datum.value > 0.4", "value": 1}, "value": -1}}}}}
 ],
 "resolve": {"axis": {"y": "independent"}}},
{"height": 82, "width": 430,
 "layer": [
  {"data": {"name": "limits"}, "transform": [{"filter": "datum.p == 'Pluto'"}],
   "mark": {"type": "rule", "strokeDash": [9, 7], "strokeWidth": 1.3, "color": "black"},
   "encoding": {"y": {"field": "v", "type": "quantitative", "scale": {"domain": [14.632, 18.005], "nice": false, "zero": false},
     "axis": {"orient": "left", "title": "Pluto", "titleY": 37}}}},
  {"data": {"name": "curves"}, "transform": [{"filter": "datum.p == 'Pluto'"}],
   "mark": {"type": "line", "interpolate": "monotone", "strokeWidth": 2.2, "color": "black"},
   "encoding": {
     "x": {"field": "t", "type": "quantitative", "scale": {"domain": [-2.194, 0.188], "nice": false, "zero": false},
       "axis": {"orient": "bottom", "values": [-2, -1, 0], "format": "d", "labelExpr": "replace(datum.label, '\u2212', '-')",
         "ticks": true, "tickSize": -14, "tickColor": "black", "tickWidth": 1.5, "labelPadding": 18, "labelFontSize": 22, "labelFlush": false,
         "title": "10\u2076 y", "titleFontSize": 22, "titleAnchor": "start", "titleAlign": "right", "titleBaseline": "top", "titleX": -2, "titleY": 4}},
     "y": {"field": "v", "type": "quantitative", "scale": {"domain": [14.632, 18.005], "nice": false, "zero": false},
       "axis": {"orient": "right", "values": [15.29, 17.84], "format": ".2f", "title": null,
         "labelBaseline": {"condition": {"test": "datum.value > 16.5", "value": "top"}, "value": "middle"},
         "labelOffset": {"condition": {"test": "datum.value > 16.5", "value": 2}, "value": 0}}}}}
 ],
 "resolve": {"axis": {"y": "independent"}}}
],
"config": {
 "view": {"stroke": null},
 "font": "Liberation Sans",
 "axis": {"domainColor": "black", "domainWidth": 1.6, "grid": false, "labelColor": "black", "titleColor": "black", "titleFontWeight": "normal", "labelFont": "Liberation Sans", "titleFont": "Liberation Sans"},
 "axisLeft": {"ticks": false, "labels": false, "titleAngle": 0, "titleAlign": "left", "titleBaseline": "middle", "titleX": -85, "titleFontSize": 19},
 "axisRight": {"ticks": false, "labelFontSize": 18, "labelPadding": 4, "labelOverlap": false, "labelBound": false, "labelFlush": false}
}
}
